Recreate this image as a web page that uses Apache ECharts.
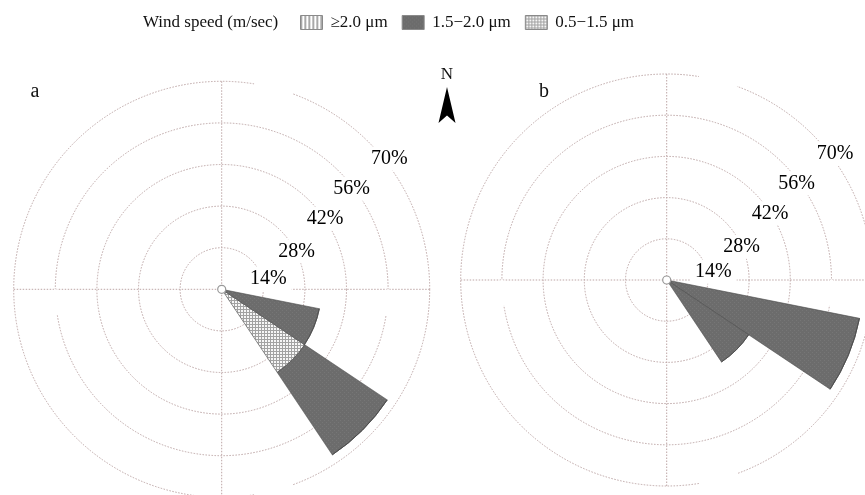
<!DOCTYPE html>
<html>
<head>
<meta charset="utf-8">
<script src="https://cdn.jsdelivr.net/npm/echarts@6/dist/echarts.min.js"></script>
<style>
  html, body { margin: 0; padding: 0; background: #fff; }
  #chart { width: 865px; height: 495px; }
</style>
</head>
<body>
<div id="chart"></div>
<script>
// 16 compass sectors, clockwise from north
const directions = ['N', 'NNE', 'NE', 'ENE', 'E', 'ESE', 'SE', 'SSE', 'S', 'SSW', 'SW', 'WSW', 'W', 'WNW', 'NW', 'NNW'];
const speedClasses = ['≥2.0 μm', '1.5−2.0 μm', '0.5−1.5 μm'];
const ringTicks = [14, 28, 42, 56, 70];

// frequency (%) per direction — panel a
const aLow  = [0, 0, 0, 0, 0, 0,    33.6, 0, 0, 0, 0, 0, 0, 0, 0, 0]; // 0.5-1.5
const aMid  = [0, 0, 0, 0, 0, 33.5, 33.4, 0, 0, 0, 0, 0, 0, 0, 0, 0]; // 1.5-2.0
const aHigh = [0, 0, 0, 0, 0, 0,    0,    0, 0, 0, 0, 0, 0, 0, 0, 0]; // >=2.0
// panel b
const bLow  = [0, 0, 0, 0, 0, 0,    0,    0, 0, 0, 0, 0, 0, 0, 0, 0];
const bMid  = [0, 0, 0, 0, 0, 66.8, 33.5, 0, 0, 0, 0, 0, 0, 0, 0, 0];
const bHigh = [0, 0, 0, 0, 0, 0,    0,    0, 0, 0, 0, 0, 0, 0, 0, 0];

// ring-label placement, px from the panel centre
const labelOffsetsA = [[46.6, -10.5], [75, -38], [103.3, -70.5], [130, -100.5], [167.6, -130.5]];
const labelOffsetsB = [[46.6, -8.3], [75, -33.3], [103.3, -66.7], [130, -96.7], [168.3, -126]];
// breaks in the printed dotted rings: [ring %, from bearing, to bearing]
const ringBreaks = [[70, 9, 20], [70, 160, 171], [56, 90, 99], [56, 261, 270]];

const serif = '"Liberation Serif", "DejaVu Serif", serif';
const gridColor = '#bda6a6';

const makePattern = (w, h, draw) => {
  const c = document.createElement('canvas');
  c.width = w;
  c.height = h;
  draw(c.getContext('2d'));
  return { image: c, repeat: 'repeat' };
};

const darkFill = makePattern(4, 4, (ctx) => {
  ctx.fillStyle = '#6c6c6c';
  ctx.fillRect(0, 0, 4, 4);
  ctx.fillStyle = '#767676';
  ctx.fillRect(0, 0, 1, 1);
  ctx.fillRect(2, 2, 1, 1);
});
// small mesh, like the screened tint in the print
const checkFill = makePattern(3, 3, (ctx) => {
  ctx.fillStyle = '#f6f6f6';
  ctx.fillRect(0, 0, 3, 3);
  ctx.fillStyle = '#a2a2a2';
  ctx.fillRect(0, 0, 3, 1);
  ctx.fillRect(0, 0, 1, 3);
});
const stripeFill = makePattern(4, 4, (ctx) => {
  ctx.fillStyle = '#ffffff';
  ctx.fillRect(0, 0, 4, 4);
  ctx.fillStyle = '#8c8c8c';
  ctx.fillRect(0, 0, 1, 4);
  ctx.fillStyle = '#c4c4c4';
  ctx.fillRect(1, 0, 1, 4);
});

const panels = [
  { center: [221.7, 289.3], radius: 208, low: aLow, mid: aMid, high: aHigh, labels: labelOffsetsA, eastGap: true },
  { center: [666.7, 280], radius: 206, low: bLow, mid: bMid, high: bHigh, labels: labelOffsetsB, eastGap: false },
];

const dotted = { color: gridColor, type: [1.5, 1.5], width: 1 };
const hidden = { show: false };

const polar = [];
const angleAxis = [];
const radiusAxis = [];
const series = [];
const extras = [];

panels.forEach((p, k) => {
  const gridIdx = k * 2;
  const dataIdx = k * 2 + 1;
  polar.push({ center: p.center, radius: p.radius });
  polar.push({ center: p.center, radius: p.radius });

  angleAxis.push({
    polarIndex: gridIdx, type: 'value', min: 0, max: 360, interval: 90,
    startAngle: 90, clockwise: true,
    axisLine: hidden, axisTick: hidden, axisLabel: hidden,
    splitLine: { show: true, lineStyle: dotted },
  });
  angleAxis.push({
    polarIndex: dataIdx, type: 'category', data: directions,
    startAngle: 90 + 360 / directions.length / 2, clockwise: true, boundaryGap: true,
    axisLine: hidden, axisTick: hidden, axisLabel: hidden, splitLine: hidden,
  });
  radiusAxis.push({
    polarIndex: gridIdx, type: 'value', min: 0, max: 70, interval: 14,
    axisLine: hidden, axisTick: hidden, axisLabel: hidden,
    splitLine: { show: true, lineStyle: dotted },
  });
  radiusAxis.push({
    polarIndex: dataIdx, type: 'value', min: 0, max: 70,
    axisLine: hidden, axisTick: hidden, axisLabel: hidden, splitLine: hidden,
  });

  const barBase = {
    type: 'bar', coordinateSystem: 'polar', polarIndex: dataIdx,
    stack: 'wind' + k, barCategoryGap: '0%',
    itemStyle: { borderColor: '#4a4a4a', borderWidth: 0.6 },
  };
  series.push({ ...barBase, name: speedClasses[2], data: p.low,
    itemStyle: { ...barBase.itemStyle, color: checkFill } });
  series.push({ ...barBase, name: speedClasses[1], data: p.mid,
    itemStyle: { ...barBase.itemStyle, color: darkFill } });
  series.push({ ...barBase, name: speedClasses[0], data: p.high,
    itemStyle: { ...barBase.itemStyle, color: stripeFill } });

  // white breaks in the dotted rings, as in the printed figure
  const pxPerPct = p.radius / 70;
  ringBreaks.forEach(([ring, b0, b1]) => {
    extras.push({
      type: 'arc', z: 1,
      shape: {
        cx: p.center[0], cy: p.center[1], r: ring * pxPerPct,
        startAngle: (b0 - 90) * Math.PI / 180, endAngle: (b1 - 90) * Math.PI / 180,
      },
      style: { stroke: '#fff', lineWidth: 3, fill: null },
    });
  });
  if (p.eastGap) {
    extras.push({
      type: 'line', z: 1,
      shape: { x1: p.center[0] + 5, y1: p.center[1], x2: p.center[0] + 68, y2: p.center[1] },
      style: { stroke: '#fff', lineWidth: 3 },
    });
  }

  // ring labels
  ringTicks.forEach((t, i) => {
    extras.push({
      type: 'text', z: 20,
      x: p.center[0] + p.labels[i][0], y: p.center[1] + p.labels[i][1],
      style: {
        text: t + '%', font: '20px ' + serif, fill: '#000',
        align: 'center', verticalAlign: 'middle',
        backgroundColor: '#fff', padding: [3, 5, 1, 5],
      },
    });
  });

  // hollow centre point
  extras.push({
    type: 'circle', z: 20, shape: { cx: p.center[0], cy: p.center[1], r: 4 },
    style: { fill: '#fff', stroke: '#999', lineWidth: 1.2 },
  });
});

const chart = echarts.init(document.getElementById('chart'), null, { renderer: 'canvas' });

chart.setOption({
  animation: false,
  backgroundColor: '#fff',
  title: {
    text: 'Wind speed (m/sec)', left: 138, top: 9,
    textStyle: { fontFamily: serif, fontSize: 17, fontWeight: 'normal', color: '#111' },
  },
  legend: {
    data: speedClasses, left: 300, top: 14, padding: 0, icon: 'rect',
    itemWidth: 22, itemHeight: 14, itemGap: 14,
    itemStyle: { borderColor: '#8a8a8a', borderWidth: 1 },
    textStyle: { fontFamily: serif, fontSize: 17, color: '#111', padding: [0, 0, 0, 3] },
  },
  polar,
  angleAxis,
  radiusAxis,
  series,
  graphic: [
    ...extras,
    { type: 'text', x: 35, y: 92, style: { text: 'a', font: '20px ' + serif, fill: '#111', align: 'center', verticalAlign: 'middle' } },
    { type: 'text', x: 544, y: 92, style: { text: 'b', font: '20px ' + serif, fill: '#111', align: 'center', verticalAlign: 'middle' } },
    { type: 'text', x: 447, y: 75, style: { text: 'N', font: '17px ' + serif, fill: '#111', align: 'center', verticalAlign: 'middle' } },
    { type: 'polygon', shape: { points: [[447, 87], [438.5, 123], [447, 115.5], [455.5, 123]] }, style: { fill: '#000' } },
  ],
});
</script>
</body>
</html>
